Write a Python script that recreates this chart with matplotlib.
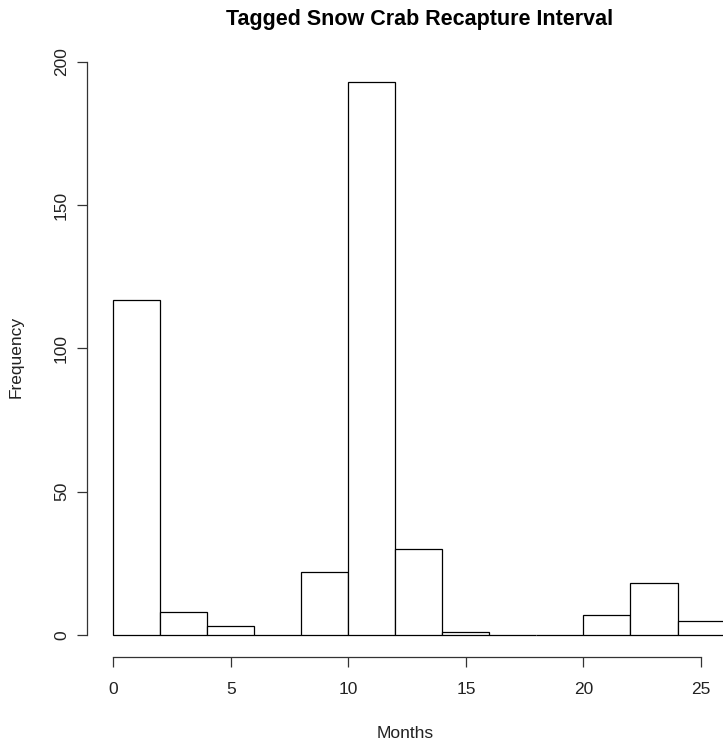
import numpy as np
import matplotlib.pyplot as plt

plt.rcParams['font.family'] = ['Liberation Sans', 'DejaVu Sans']

# histogram bins (months) and counts
bin_left = [0, 2, 4, 6, 8, 10, 12, 14, 16, 18, 20, 22, 24]
counts = [117, 8, 3, 0, 22, 193, 30, 1, 0, 0, 7, 18, 5]
bin_width = 2
x_ticks = [0, 5, 10, 15, 20, 25]
y_ticks = [0, 50, 100, 150, 200]

W, H = 723, 746
fig = plt.figure(figsize=(W / 100, H / 100), dpi=100)
# plot region in pixels: left 87, right edge cut by the figure, top 60, bottom 657
ax = fig.add_axes([87 / W, (H - 657) / H, 1 - 87 / W, (657 - 60) / H])

ax.bar(bin_left, counts, width=bin_width, align='edge', color='white',
       edgecolor='black', linewidth=0.9)

# R style usr extension of 4%
ymax = max(counts)
ax.set_ylim(-0.04 * ymax, 200.72)
ax.set_xlim(-1.12, (723 - 113) / 23.52)

for s in ['top', 'right']:
    ax.spines[s].set_visible(False)
ax.spines['left'].set_bounds(0, 200)
ax.spines['bottom'].set_bounds(0, 25)
for s in ['left', 'bottom']:
    ax.spines[s].set_color('#333333')
    ax.spines[s].set_linewidth(0.9)

ax.set_xticks(x_ticks)
ax.set_yticks(y_ticks)
ax.set_yticklabels([str(v) for v in y_ticks], rotation=90, va='center')
ax.tick_params(axis='both', length=7, width=0.9, color='#333333',
               labelsize=12.5, labelcolor='#222222')
ax.tick_params(axis='x', pad=11)
ax.tick_params(axis='y', pad=6)

fig.text(420 / W, 1 - 20 / H, 'Tagged Snow Crab Recapture Interval',
         ha='center', va='center', fontsize=15.5, fontweight='bold',
         color='black')
fig.text(16 / W, 1 - 357 / H, 'Frequency', rotation=90, ha='center',
         va='center', fontsize=12.5, color='#222222')
fig.text(405 / W, 1 - 733 / H, 'Months', ha='center', va='center',
         fontsize=12.5, color='#222222')

fig.savefig('out.png', dpi=100)
